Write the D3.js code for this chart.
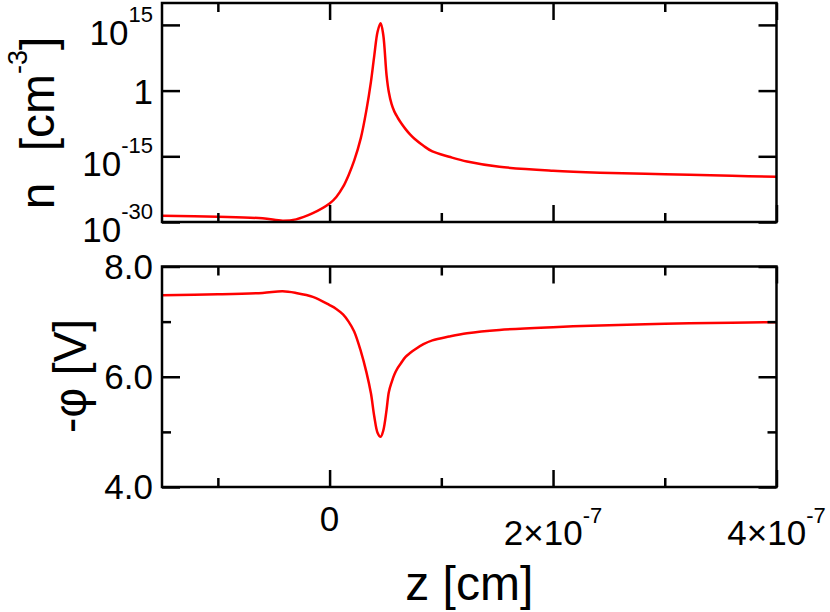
<!DOCTYPE html>
<html><head><meta charset="utf-8">
<script src="https://cdn.jsdelivr.net/npm/d3@7"></script>
<style>body{margin:0;background:#fff}text{font-family:"Liberation Sans",Arial,sans-serif;fill:#000}</style>
</head><body>
<svg id="c" width="830" height="612"></svg>
<script>
// z in units of 1e-7 cm
const zValues = [-1.5,-1.0,-0.6,-0.42,-0.3,-0.15,0,0.06,0.12,0.17,0.22,0.28,0.33,0.37,0.40,0.43,0.457,0.48,0.51,0.53,0.555,0.58,0.61,0.64,0.68,0.72,0.76,0.84,0.92,1.07,1.23,1.52,2.0,2.42,3.0,3.6,4.0];
// log10 of n [cm^-3]
const nLog10 = [-28.6,-28.8,-29.15,-29.7,-29.4,-28.0,-25.8,-24.3,-22.0,-19.3,-16.0,-10.8,-4.4,2.0,8.0,13.5,15.4,12.8,3.5,-0.3,-3.1,-4.8,-6.2,-7.4,-8.8,-10.0,-11.0,-12.6,-13.9,-15.1,-16.2,-17.4,-18.3,-18.75,-19.1,-19.45,-19.65];
// -phi [V]
const phiValues = [7.48,7.495,7.52,7.55,7.52,7.45,7.30,7.23,7.13,7.00,6.82,6.46,6.08,5.70,5.28,4.98,4.91,5.02,5.40,5.72,5.90,6.04,6.16,6.25,6.36,6.43,6.49,6.59,6.66,6.73,6.79,6.85,6.90,6.93,6.96,6.98,6.99];

const xMajorTicks = [0, 2e-7, 4e-7];
const xMinorTicks = [-1e-7, 1e-7, 3e-7];
const xTickLabels = [{b:"0"},{b:"2×10",s:"-7"},{b:"4×10",s:"-7"}];
const nTicks = [1e-30, 1e-15, 1, 1e15];
const nTickLabels = [{b:"10",s:"-30"},{b:"10",s:"-15"},{b:"1"},{b:"10",s:"15"}];
const phiMajorTicks = [4, 6, 8];
const phiMinorTicks = [5, 7];
const phiTickLabels = ["4.0","6.0","8.0"];

const L=162, R=776.5, T1=3, B1=222, T2=266.5, B2=487;
const svg = d3.select("#c");
const x = d3.scaleLinear().domain([-1.5e-7, 4e-7]).range([L, R]);
const yN = d3.scaleLog().domain([1e-30, 1e20]).range([B1, T1]);
const yP = d3.scaleLinear().domain([4, 8]).range([B2, T2]);

const data = zValues.map((z,i)=>({z:z*1e-7, n:Math.pow(10,nLog10[i]), p:phiValues[i]}));

const red = "#ff0000";
const crv = d3.curveCatmullRom.alpha(0.5);
svg.append("path").datum(data)
  .attr("d", d3.line().x(d=>x(d.z)).y(d=>yN(d.n)).curve(crv))
  .attr("fill","none").attr("stroke",red).attr("stroke-width",2.5);
svg.append("path").datum(data)
  .attr("d", d3.line().x(d=>x(d.z)).y(d=>yP(d.p)).curve(crv))
  .attr("fill","none").attr("stroke",red).attr("stroke-width",2.5);

function ticks(axis, tx, ty){
  const g = svg.append("g").attr("transform",`translate(${tx},${ty})`).call(axis);
  g.select(".domain").remove();
  g.selectAll(".tick line").attr("stroke","#000").attr("stroke-width",2.5);
  g.selectAll(".tick text").remove();
}
const MAJ=17, MIN=9;
[[T1,B1],[T2,B2]].forEach(([t,b])=>{
  ticks(d3.axisBottom(x).tickValues(xMajorTicks).tickSize(-MAJ).tickFormat(""),0,b);
  ticks(d3.axisBottom(x).tickValues(xMinorTicks).tickSize(-MIN).tickFormat(""),0,b);
  ticks(d3.axisTop(x).tickValues(xMajorTicks).tickSize(-MAJ).tickFormat(""),0,t);
  ticks(d3.axisTop(x).tickValues(xMinorTicks).tickSize(-MIN).tickFormat(""),0,t);
});
ticks(d3.axisLeft(yN).tickValues(nTicks).tickSize(-18).tickFormat(""),L,0);
ticks(d3.axisRight(yN).tickValues(nTicks).tickSize(-18).tickFormat(""),R,0);
ticks(d3.axisLeft(yP).tickValues(phiMajorTicks).tickSize(-18).tickFormat(""),L,0);
ticks(d3.axisLeft(yP).tickValues(phiMinorTicks).tickSize(-MIN).tickFormat(""),L,0);
ticks(d3.axisRight(yP).tickValues(phiMajorTicks).tickSize(-18).tickFormat(""),R,0);
ticks(d3.axisRight(yP).tickValues(phiMinorTicks).tickSize(-MIN).tickFormat(""),R,0);

// frames
[[T1,B1],[T2,B2]].forEach(([t,b])=>{
  svg.append("rect").attr("x",L).attr("y",t).attr("width",R-L).attr("height",b-t)
    .attr("fill","none").attr("stroke","#000").attr("stroke-width",2.5);
});

// y tick labels (top)
nTicks.forEach((v,i)=>{
  const lab = nTickLabels[i];
  const t = svg.append("text").attr("x",153).attr("text-anchor","end")
    .attr("y", yN(v) + (lab.s ? 20 : 13)).attr("font-size",35);
  t.append("tspan").text(lab.b);
  if(lab.s) t.append("tspan").attr("font-size",22).attr("dy",-23).text(lab.s);
});
// y tick labels (bottom)
phiMajorTicks.forEach((v,i)=>{
  svg.append("text").attr("x",153).attr("text-anchor","end")
    .attr("y", yP(v)+12).attr("font-size",35).text(phiTickLabels[i]);
});
// x tick labels
xMajorTicks.forEach((v,i)=>{
  const lab = xTickLabels[i];
  const t = svg.append("text").attr("x",x(v)).attr("text-anchor","middle")
    .attr("y", lab.s ? 545 : 531).attr("font-size",35);
  t.append("tspan").text(lab.b);
  if(lab.s) t.append("tspan").attr("font-size",22).attr("dy",-22).text(lab.s);
});

// axis titles
svg.append("text").attr("x",(L+R)/2).attr("y",600).attr("text-anchor","middle")
  .attr("font-size",48).text("z [cm]");
const nt = svg.append("text").attr("transform","translate(54,123) rotate(-90)")
  .attr("text-anchor","middle").attr("font-size",48).attr("word-spacing",18);
nt.append("tspan").text("n [cm");
nt.append("tspan").attr("font-size",27).attr("dy",-27).text("-3");
nt.append("tspan").attr("dy",27).text("]");
svg.append("text").attr("transform","translate(86,376) rotate(-90)")
  .attr("text-anchor","middle").attr("font-size",46).text("-φ [V]");
</script>
</body></html>
